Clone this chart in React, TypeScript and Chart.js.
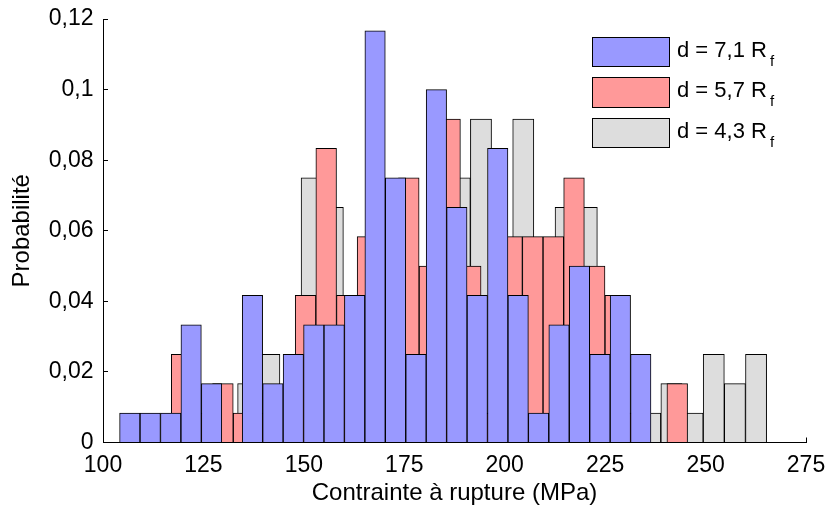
import { useEffect, useRef } from 'react';
import { Chart, registerables } from 'chart.js';

Chart.register(...registerables);

// Bin centres (MPa) and probabilities for each histogram
const blueCenters = [106.67, 111.76, 116.85, 121.94, 127.03, 132.11, 137.2, 142.29, 147.38, 152.47, 157.55, 162.64, 167.73, 172.82, 177.91, 182.99, 188.08, 193.17, 198.26, 203.35, 208.43, 213.52, 218.61, 223.7, 228.79, 233.87];
const blueValues = [0.00833, 0.00833, 0.00833, 0.03333, 0.01667, 0, 0.04167, 0.01667, 0.025, 0.03333, 0.03333, 0.04167, 0.11667, 0.075, 0.025, 0.1, 0.06667, 0.04167, 0.08333, 0.04167, 0.00833, 0.03333, 0.05, 0.025, 0.04167, 0.025];

const redCenters = [119.57, 124.71, 129.85, 134.99, 140.13, 145.28, 150.42, 155.56, 160.7, 165.84, 170.98, 176.12, 181.26, 186.4, 191.54, 196.69, 201.83, 206.97, 212.11, 217.25, 222.39, 227.53, 232.67, 237.81, 242.95];
const redValues = [0.025, 0.00833, 0.01667, 0.00833, 0.00833, 0.00833, 0.04167, 0.08333, 0.04167, 0.05833, 0.05833, 0.075, 0.05, 0.09167, 0.05, 0.00833, 0.05833, 0.05833, 0.05833, 0.075, 0.05, 0.04167, 0.00833, 0, 0.01667];

const grayCenters = [136.14, 141.41, 146.68, 151.94, 157.21, 162.48, 167.75, 173.02, 178.28, 183.55, 188.82, 194.09, 199.36, 204.62, 209.89, 215.16, 220.43, 225.7, 230.96, 236.23, 241.5, 246.77, 252.04, 257.3, 262.57];
const grayValues = [0.01667, 0.025, 0.00833, 0.075, 0.06667, 0.03333, 0.05, 0.04167, 0.03333, 0.04167, 0.075, 0.09167, 0.03333, 0.09167, 0.03333, 0.06667, 0.06667, 0.04167, 0.00833, 0.00833, 0.01667, 0.00833, 0.025, 0.01667, 0.025];

const seriesNames = ['d = 7,1 R', 'd = 5,7 R', 'd = 4,3 R'];
const seriesColors = ['#9999FF', '#FF9999', '#DDDDDD'];

const xMin = 100;
const xMax = 275;
const xStep = 25;
const yMin = 0;
const yMax = 0.12;
const yStep = 0.02;

const xTitle = 'Contrainte à rupture (MPa)';
const yTitle = 'Probabilité';

const FONT = "'Liberation Sans', Arial, sans-serif";

function toPoints(xs: number[], ys: number[]) {
  return xs.map((x, i) => ({ x, y: ys[i] }));
}

export default function App() {
  const ref = useRef<HTMLCanvasElement>(null);

  useEffect(() => {
    document.body.style.margin = '0';
    const hiddenX = () => ({
      type: 'linear' as const,
      display: false,
      min: xMin,
      max: xMax,
      offset: false,
      grid: { offset: false },
      ticks: { stepSize: xStep },
    });
    const barDefaults = {
      borderColor: '#000',
      borderWidth: 1,
      grouped: false,
      barPercentage: 1,
      categoryPercentage: 1,
    };
    const chart = new Chart(ref.current!, {
      type: 'bar',
      data: {
        datasets: [
          {
            label: seriesNames[0],
            data: toPoints(blueCenters, blueValues) as any,
            backgroundColor: seriesColors[0],
            xAxisID: 'x',
            ...barDefaults,
          },
          {
            label: seriesNames[1],
            data: toPoints(redCenters, redValues) as any,
            backgroundColor: seriesColors[1],
            xAxisID: 'x2',
            ...barDefaults,
          },
          {
            label: seriesNames[2],
            data: toPoints(grayCenters, grayValues) as any,
            backgroundColor: seriesColors[2],
            xAxisID: 'x3',
            ...barDefaults,
          },
        ],
      },
      options: {
        responsive: false,
        animation: false,
        layout: { padding: { top: 19, right: 21, left: 0, bottom: 0 } },
        plugins: { legend: { display: false }, tooltip: { enabled: false } },
        scales: {
          x: {
            type: 'linear',
            position: 'bottom',
            min: xMin,
            max: xMax,
            offset: false,
            grid: {
              offset: false,
              drawOnChartArea: false,
              drawTicks: true,
              tickLength: -5,
              color: '#000',
              lineWidth: 1,
            },
            border: { display: true, color: '#000', width: 1 },
            ticks: {
              stepSize: xStep,
              padding: 14.5,
              color: '#000',
              font: { family: FONT, size: 23 },
              maxRotation: 0,
              autoSkip: false,
              callback: (v: any) => String(v),
            },
            title: {
              display: true,
              text: xTitle,
              color: '#000',
              font: { family: FONT, size: 24 },
              padding: { top: 0, bottom: 0 },
            },
            afterFit: (s: any) => {
              s.height = 65.5;
              s.paddingLeft = 0;
              s.paddingRight = 0;
            },
          },
          x2: hiddenX(),
          x3: hiddenX(),
          y: {
            type: 'linear',
            position: 'left',
            min: yMin,
            max: yMax,
            grid: {
              drawOnChartArea: false,
              drawTicks: true,
              tickLength: -5,
              color: '#000',
              lineWidth: 1,
            },
            border: { display: true, color: '#000', width: 1 },
            ticks: {
              stepSize: yStep,
              padding: 14.5,
              color: '#000',
              font: { family: FONT, size: 23 },
              callback: (v: any) =>
                Number(v).toFixed(2).replace(/0+$/, '').replace(/\.$/, '').replace('.', ','),
            },
            title: {
              display: true,
              text: yTitle,
              color: '#000',
              font: { family: FONT, size: 24 },
              padding: { top: 7.5, bottom: 0 },
            },
            afterFit: (s: any) => {
              s.width = 103;
              s.paddingTop = 0;
              s.paddingBottom = 0;
            },
          },
        },
      },
    });
    return () => chart.destroy();
  }, []);

  const rowTops = [36.5, 77, 117.5];

  return (
    <div style={{ position: 'relative', width: 827, height: 508, background: '#fff' }}>
      <canvas ref={ref} width={827} height={508} style={{ position: 'absolute', left: 0, top: 0 }} />
      {seriesNames.map((name, i) => (
        <div key={name} style={{ position: 'absolute', left: 592, top: rowTops[i], height: 30 }}>
          <div
            style={{
              position: 'absolute',
              left: 0,
              top: 0,
              width: 78,
              height: 30.5,
              boxSizing: 'border-box',
              border: '1px solid #000',
              background: seriesColors[i],
            }}
          />
          <div
            style={{
              position: 'absolute',
              left: 85,
              top: 2,
              whiteSpace: 'nowrap',
              fontFamily: FONT,
              fontSize: 22,
              lineHeight: '22px',
              color: '#000',
            }}
          >
            {name}
            <span style={{ fontSize: 15, position: 'relative', top: 9, marginLeft: 3 }}>f</span>
          </div>
        </div>
      ))}
    </div>
  );
}
